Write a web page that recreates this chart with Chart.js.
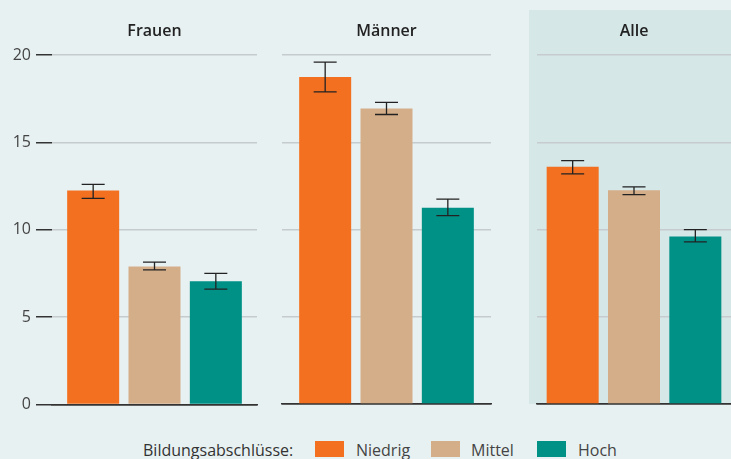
<!DOCTYPE html>
<html lang="de">
<head>
<meta charset="utf-8">
<script src="https://cdn.jsdelivr.net/npm/chart.js@4"></script>
<style>
    body { margin: 0; width: 731px; height: 459px; background: #e8f1f2; overflow: hidden; position: relative; font-family: "Open Sans", sans-serif; }
    canvas { position: absolute; top: 0; }
    #bgAlle { position: absolute; left: 529px; top: 10px; width: 202px; height: 394px; background: #d5e7e7; }
    .leg { position: absolute; top: 442px; font-size: 16px; line-height: 16px; color: #333; white-space: nowrap; }
    .sw { position: absolute; top: 441px; width: 29px; height: 16px; }
</style>
</head>
<body>
<div id="bgAlle"></div>
<canvas id="c0" width="262" height="419" style="left:0px"></canvas>
<canvas id="c1" width="234" height="416" style="left:262px"></canvas>
<canvas id="c2" width="202" height="416" style="left:529px"></canvas>

<span class="leg" style="left:143px">Bildungsabschlüsse:</span>
<span class="sw" style="left:315px;background:#f37021"></span>
<span class="leg" style="left:356px;color:#444">Niedrig</span>
<span class="sw" style="left:431px;background:#d4ae89"></span>
<span class="leg" style="left:471px;color:#444">Mittel</span>
<span class="sw" style="left:537px;background:#009186"></span>
<span class="leg" style="left:578px;color:#444">Hoch</span>

<script>
const panels = ['Frauen', 'Männer', 'Alle'];
const levels = ['Niedrig', 'Mittel', 'Hoch'];

const niedrig = [12.25, 18.75, 13.6];
const niedrigLow = [11.8, 17.9, 13.2];
const niedrigHigh = [12.6, 19.6, 13.95];

const mittel = [7.9, 16.95, 12.25];
const mittelLow = [7.7, 16.6, 12.0];
const mittelHigh = [8.15, 17.3, 12.45];

const hoch = [7.05, 11.25, 9.6];
const hochLow = [6.6, 10.8, 9.3];
const hochHigh = [7.5, 11.75, 10.0];

const yTicks = [0, 5, 10, 15, 20];
const colors = ['#f37021', '#d4ae89', '#009186'];

const series = [
    { values: niedrig, low: niedrigLow, high: niedrigHigh },
    { values: mittel, low: mittelLow, high: mittelHigh },
    { values: hoch, low: hochLow, high: hochHigh }
];

// canvas padding so the plot areas line up with the reference
const pads = [
    { left: 0, right: 5, top: 0, bottom: 12 },
    { left: 20, right: 5, top: 0, bottom: 12 },
    { left: 8, right: 0, top: 0, bottom: 12 }
];

const errorBars = {
    id: 'errorBars',
    afterDatasetsDraw(chart) {
        const ctx = chart.ctx;
        const y = chart.scales.y;
        ctx.save();
        ctx.strokeStyle = '#222';
        ctx.lineWidth = 1.3;
        chart.data.datasets.forEach((ds, i) => {
            const bar = chart.getDatasetMeta(i).data[0];
            const top = y.getPixelForValue(ds.errHigh);
            const bottom = y.getPixelForValue(ds.errLow);
            ctx.beginPath();
            ctx.moveTo(bar.x, top);
            ctx.lineTo(bar.x, bottom);
            ctx.moveTo(bar.x - 11.5, top);
            ctx.lineTo(bar.x + 11.5, top);
            ctx.moveTo(bar.x - 11.5, bottom);
            ctx.lineTo(bar.x + 11.5, bottom);
            ctx.stroke();
        });
        ctx.restore();
    }
};

panels.forEach((name, p) => {
    const first = p === 0;
    const canvas = document.getElementById('c' + p);
    const areaWidth = canvas.width - pads[p].left - pads[p].right - (first ? 52 : 0);

    new Chart(canvas, {
        type: 'bar',
        data: {
            labels: [name],
            datasets: series.map((s, i) => ({
                label: levels[i],
                data: [s.values[p]],
                errLow: s.low[p],
                errHigh: s.high[p],
                backgroundColor: colors[i],
                borderWidth: 0,
                categoryPercentage: 184 / areaWidth,
                barPercentage: 0.848
            }))
        },
        options: {
            responsive: false,
            animation: false,
            layout: { padding: pads[p] },
            plugins: {
                legend: { display: false },
                tooltip: { enabled: false },
                title: {
                    display: true,
                    text: name,
                    fullSize: false,
                    color: '#222',
                    font: { family: 'Open Sans', size: 16, weight: '600' },
                    padding: { top: 22, bottom: 14 }
                }
            },
            scales: {
                x: {
                    ticks: { display: false },
                    grid: { display: false },
                    border: { color: '#333', width: 1.5 },
                    afterFit: s => { s.height = 0; }
                },
                y: {
                    min: 0,
                    max: 20,
                    afterBuildTicks: s => { s.ticks = yTicks.map(v => ({ value: v })); },
                    ticks: {
                        display: first,
                        padding: 5,
                        color: '#444',
                        font: { family: 'Open Sans', size: 16 }
                    },
                    grid: {
                        color: c => c.tick.value === 0 ? '#333' : '#c6cccd',
                        lineWidth: 1.5,
                        drawTicks: first,
                        tickLength: 16,
                        tickColor: '#333'
                    },
                    border: { display: false },
                    afterFit: s => { s.width = first ? 52 : 0; }
                }
            }
        },
        plugins: [errorBars]
    });
});
</script>
</body>
</html>
